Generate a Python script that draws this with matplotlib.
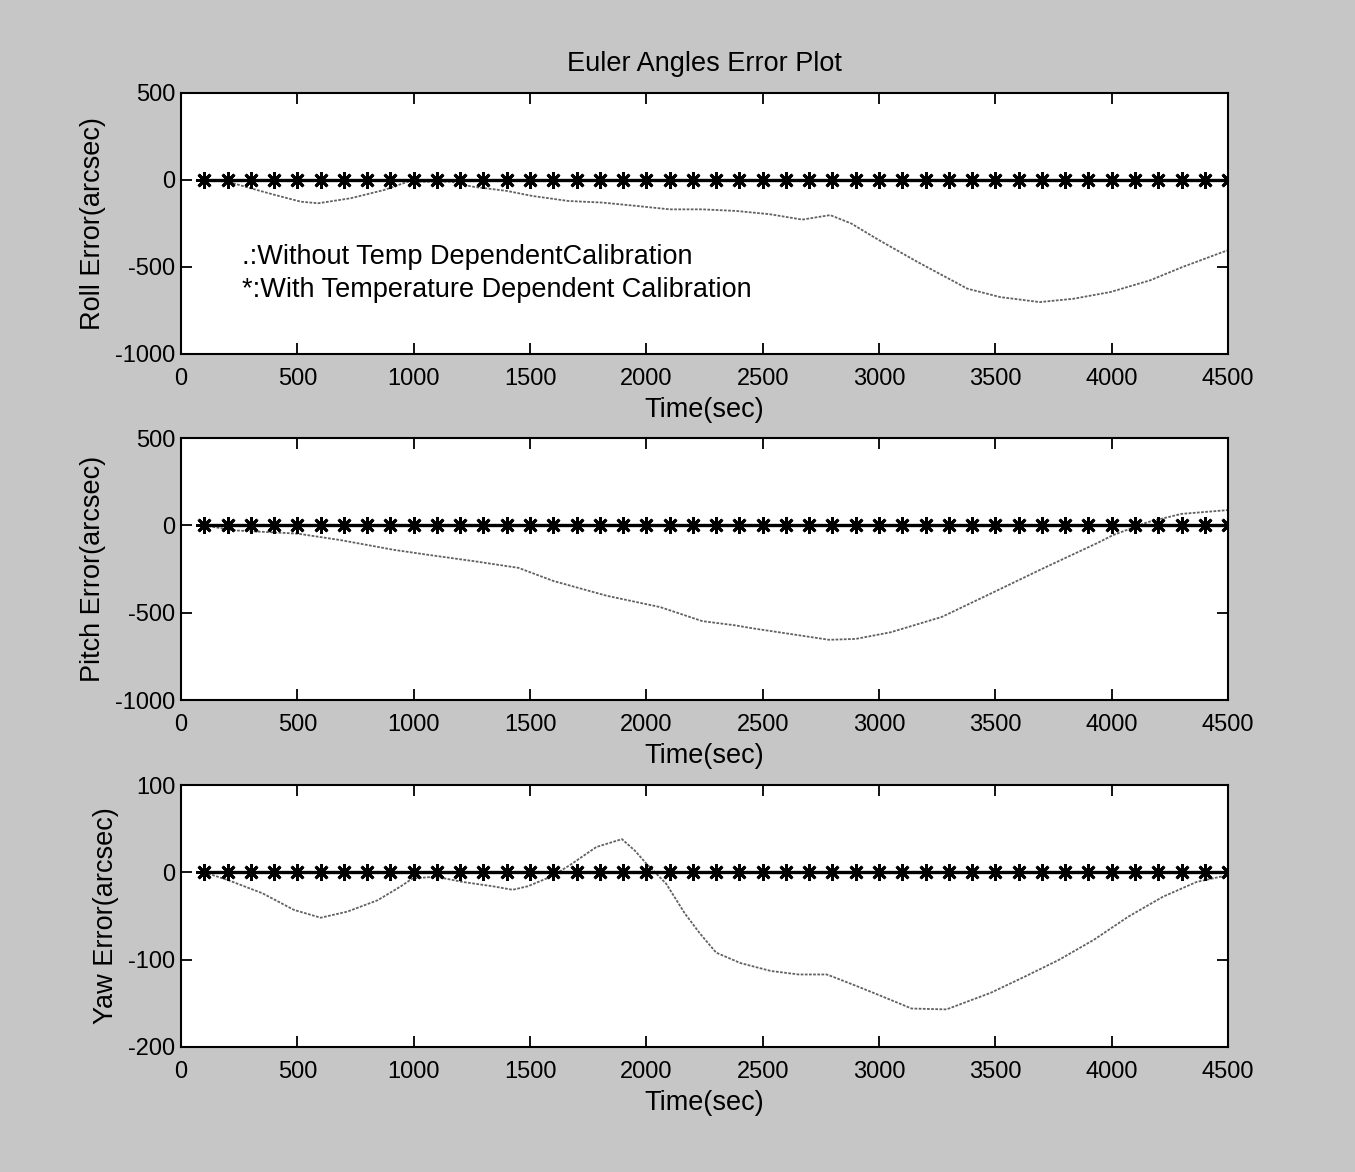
"""Euler angles error plot (roll / pitch / yaw)."""

import numpy as np
import matplotlib
matplotlib.use("Agg")
import matplotlib.pyplot as plt

plt.rcParams["font.family"] = ["Liberation Sans", "DejaVu Sans"]
plt.rcParams["axes.unicode_minus"] = False

# --- data ----------------------------------------------------------------
# calibrated series: markers every 100 s, all zero
t_cal = np.arange(100, 4501, 100)
cal_err = np.zeros_like(t_cal, dtype=float)

roll_t = [100, 200, 300, 400, 515, 590, 730, 875, 975, 1160, 1250, 1400, 1510,
          1665, 1810, 1955, 2100, 2240, 2385, 2530, 2670, 2790, 2880, 3000,
          3165, 3380, 3520, 3690, 3835, 3995, 4165, 4305, 4480, 4500]
roll_err = [0, -10, -48, -85, -125, -134, -105, -57, -10, -10, -38, -63, -92,
            -121, -130, -149, -169, -169, -178, -197, -228, -202, -250, -346,
            -471, -625, -673, -702, -683, -644, -577, -500, -413, -405]

pitch_t = [100, 225, 500, 685, 915, 1065, 1265, 1450, 1600, 1830, 2060, 2240,
           2380, 2460, 2785, 2900, 3050, 3270, 3490, 3710, 3935, 4005, 4155,
           4300, 4465, 4500]
pitch_err = [0, -28, -47, -84, -140, -169, -206, -243, -318, -403, -468, -548,
             -572, -590, -655, -650, -612, -524, -384, -243, -103, -56, 19,
             66, 84, 88]

yaw_t = [100, 203, 350, 485, 600, 715, 845, 945, 995, 1095, 1210, 1340, 1425,
         1490, 1590, 1670, 1785, 1895, 1950, 2000, 2085, 2165, 2230, 2300,
         2405, 2535, 2655, 2775, 2815, 2920, 3040, 3140, 3290, 3350, 3480,
         3630, 3775, 3925, 4070, 4220, 4365, 4485, 4500]
yaw_err = [0, -9, -24, -43, -52, -45, -32, -16, -7, -5, -11, -16, -20, -16,
           -5, 8, 29, 38, 25, 10, -13, -47, -70, -92, -104, -113, -117, -117,
           -121, -132, -145, -156, -157, -151, -138, -119, -100, -77, -51,
           -28, -11, -4, -3]

panels = [
    ("Roll Error(arcsec)", roll_t, roll_err, (-1000, 500), [-1000, -500, 0, 500]),
    ("Pitch Error(arcsec)", pitch_t, pitch_err, (-1000, 500), [-1000, -500, 0, 500]),
    ("Yaw Error(arcsec)", yaw_t, yaw_err, (-200, 100), [-200, -100, 0, 100]),
]
x_ticks = list(range(0, 4501, 500))

# axes boxes in figure fraction [left, bottom, width, height]
boxes = [
    [0.1336, 0.6980, 0.7727, 0.2227],
    [0.1336, 0.4027, 0.7727, 0.2235],
    [0.1336, 0.1067, 0.7727, 0.2235],
]

BG = "#c6c6c6"
FS_TICK = 17
FS_LAB = 19.5

fig = plt.figure(figsize=(13.55, 11.72), dpi=100, facecolor=BG)

for i, (ylab, t, err, ylim, yticks) in enumerate(panels):
    ax = fig.add_axes(boxes[i])
    ax.set_facecolor("white")
    ax.plot(t, err, color="0.38", lw=1.3, linestyle=(0, (1.5, 0.8)))
    ax.plot(t_cal, cal_err, color="black", lw=2.4, marker=(8, 2, 0),
            markersize=12, markeredgewidth=2.0)
    ax.set_xlim(0, 4500)
    ax.set_ylim(*ylim)
    ax.set_xticks(x_ticks)
    ax.set_yticks(yticks)
    ax.tick_params(direction="in", top=True, right=True, length=8, width=1.3,
                   labelsize=FS_TICK)
    ax.tick_params(axis="x", pad=10)
    ax.tick_params(axis="y", pad=4)
    for sp in ax.spines.values():
        sp.set_linewidth(1.5)
    ax.set_xlabel("Time(sec)", fontsize=FS_LAB, labelpad=5)
    ax.set_ylabel(ylab, fontsize=FS_LAB, labelpad=7)
    if i == 0:
        ax.set_title("Euler Angles Error Plot", fontsize=FS_LAB, pad=16)
        ax.text(260, -440, ".:Without Temp DependentCalibration",
                fontsize=FS_LAB, va="center", ha="left")
        ax.text(260, -630, "*:With Temperature Dependent Calibration",
                fontsize=FS_LAB, va="center", ha="left")

fig.savefig("out.png", dpi=100, facecolor=BG)
